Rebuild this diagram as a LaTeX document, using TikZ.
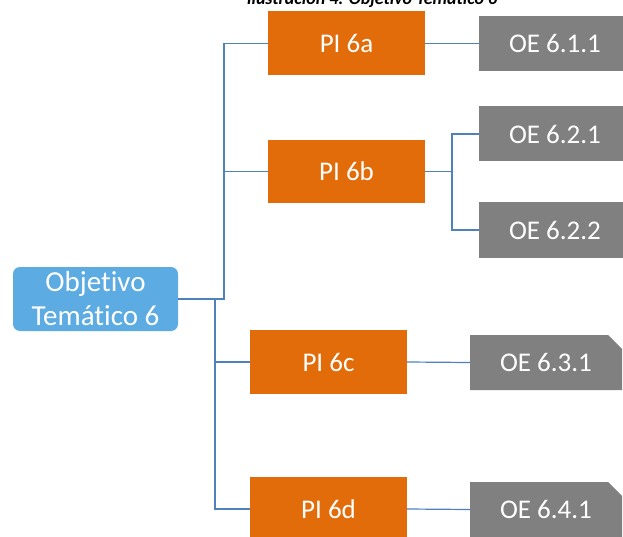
\documentclass[tikz,border=0pt]{standalone}
\usepackage{fontspec}
\setmainfont[Ligatures=NoCommon]{Carlito}
\usetikzlibrary{shapes.misc,positioning,calc}

\definecolor{otblue}{RGB}{92,171,226}
\definecolor{piorange}{RGB}{227,108,10}
\definecolor{oegray}{RGB}{128,128,128}
\definecolor{linkblue}{RGB}{79,129,189}

\begin{document}
\begin{tikzpicture}[x=1pt, y=-1pt,
    every node/.style={font=\fontsize{27}{33}\selectfont, text=white, inner sep=0pt},
    otbox/.style={fill=otblue, rounded corners=7pt, minimum width=165pt, minimum height=64pt, align=center, font=\fontsize{29}{34}\selectfont},
    pibox/.style={fill=piorange, minimum width=157pt, minimum height=64pt},
    oebox/.style={fill=oegray, minimum width=152pt, minimum height=55pt},
    oesnip/.style={oebox, chamfered rectangle, chamfered rectangle corners=north east, chamfered rectangle xsep=7pt, chamfered rectangle ysep=7pt},
    link/.style={draw=linkblue, line width=1.2pt}]

        \clip (0,0) rectangle (623,537);
        \useasboundingbox (0,0) rectangle (623,537);

        % title (cut off at the top)
        \node[anchor=base, text=black, font=\fontsize{18}{21}\selectfont\bfseries\itshape] (title) at (372,5) {Ilustración 4: Objetivo Temático 6};

        % Objetivo
        \node[otbox] (ot) at (95.5,299) {Objetivo\\Temático 6};

        % PI
        \node[pibox] (pia) at (346.5,43.5) {PI 6a};
        \node[pibox, minimum height=63pt] (pib) at (346.5,171.5) {PI 6b};
        \node[pibox] (pic) at (328.5,362) {PI 6c};
        \node[pibox] (pid) at (328.5,509) {PI 6d};

        % OE
        \node[oebox] (oea) at (555,43.5) {OE 6.1.1};
        \node[oebox] (oeba) at (555,134) {OE 6.2.1};
        \node[oebox] (oebb) at (555,230) {OE 6.2.2};
        \node[oesnip] (oec) at (546,362.5) {OE 6.3.1};
        \node[oesnip] (oed) at (546,509.5) {OE 6.4.1};

        \coordinate (busa) at (224,299);
        \coordinate (busc) at (215,299);
        \coordinate (busb) at (452,171.5);

        % Connectors
        \draw[link] (ot.east) -- (busa) |- (pia.west);
        \draw[link] (busa) |- (pib.west);
        \draw[link] (busc) |- (pic.west);
        \draw[link] (busc) |- (pid.west);

        \draw[link] (pia.east) -- (oea.west);
        \draw[link] (pib.east) -- (busb) |- (oeba.west);
        \draw[link] (busb) |- (oebb.west);
        \draw[link] (pic.east) -- (oec.west);
        \draw[link] (pid.east) -- (oed.west);

    \end{tikzpicture}
\end{document}
